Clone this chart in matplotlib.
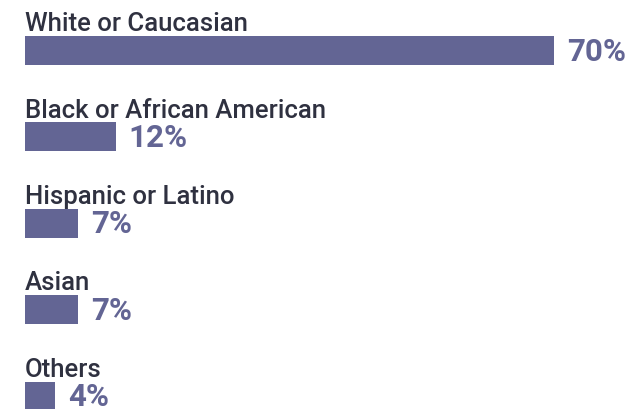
import matplotlib
matplotlib.use("Agg")
from matplotlib import pyplot as plt

categories = ["White or Caucasian", "Black or African American",
              "Hispanic or Latino", "Asian", "Others"]
values = [70, 12, 7, 7, 4]
value_labels = ["70%", "12%", "7%", "7%", "4%"]

BAR_COLOR = "#636594"
TEXT_COLOR = "#2f3140"

plt.rcParams["font.family"] = ["Roboto", "DejaVu Sans"]

fig = plt.figure(figsize=(6.44, 4.10), dpi=100)
ax = fig.add_axes([0, 0, 1, 1])

px_per_unit = 529 / 70
ax.set_xlim(-25 / px_per_unit, (644 - 25) / px_per_unit)
row_px = 86.4
ax.set_ylim((410 - 51.5) / row_px, -51.5 / row_px)
ax.axis("off")

ypos = list(range(len(categories)))
ax.barh(ypos, values, height=29 / row_px, color=BAR_COLOR, left=0)

for y, cat, v, lab in zip(ypos, categories, values, value_labels):
    ax.text(0, y - 0.235, cat, fontsize=18.5, fontweight="medium",
            color=TEXT_COLOR, ha="left", va="baseline")
    ax.text(v + 13 / px_per_unit, y, lab, fontsize=22.5, fontweight="bold",
            color=BAR_COLOR, ha="left", va="center")

fig.savefig("out.png", dpi=100)
